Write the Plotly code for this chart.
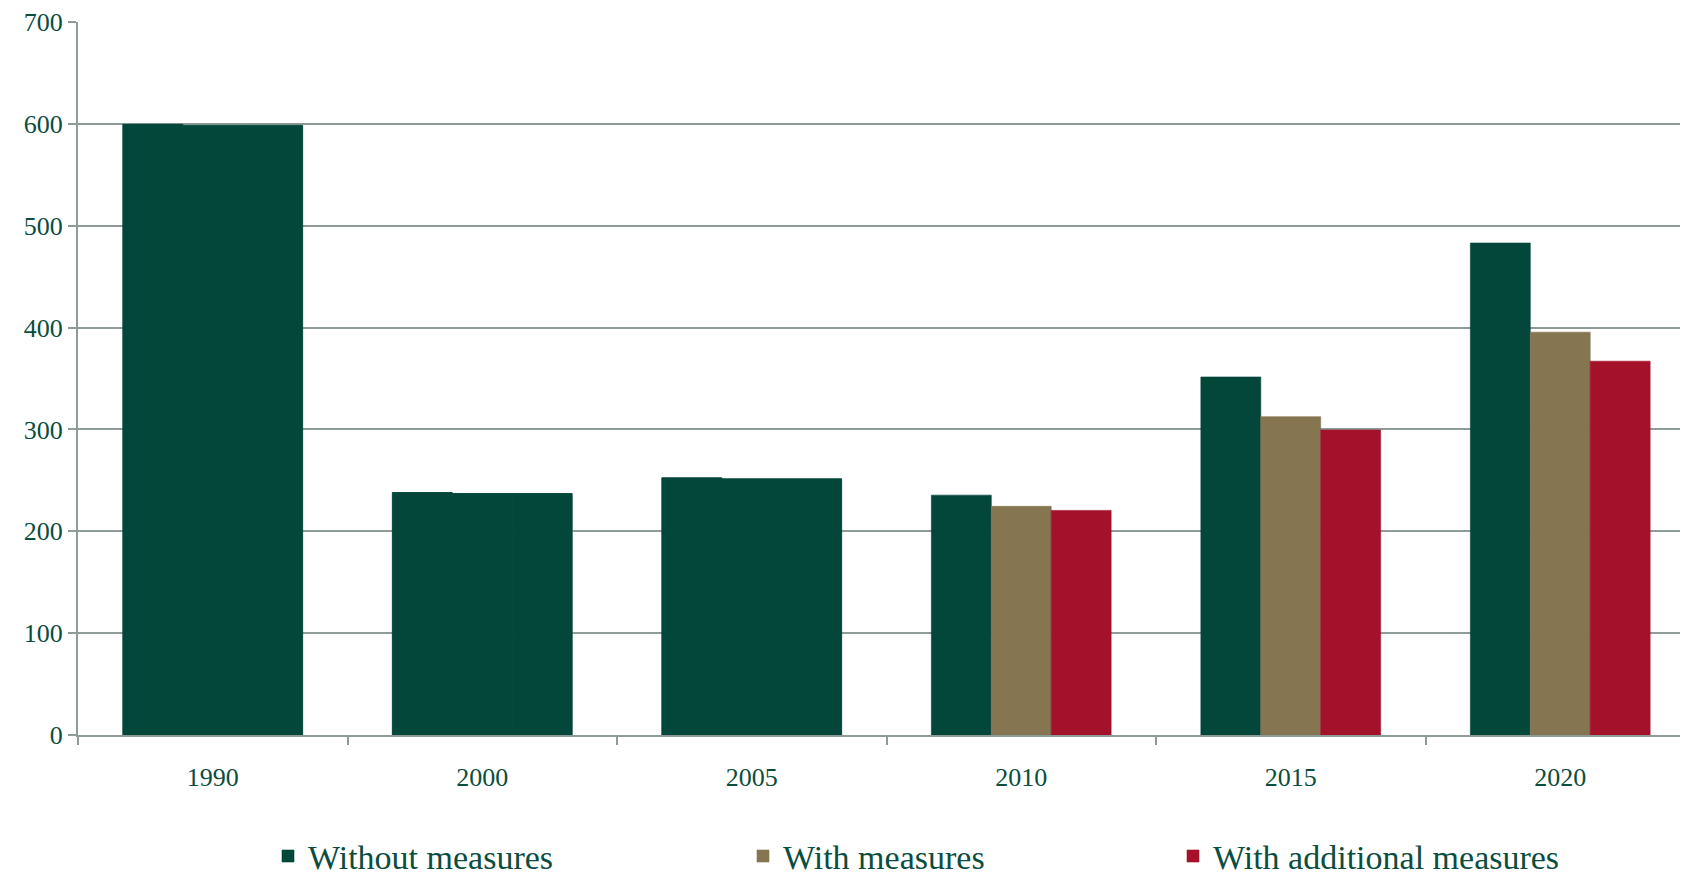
import plotly.graph_objects as go

categories = ["1990", "2000", "2005", "2010", "2015", "2020"]
without_measures = [599.5, 238, 252.5, 235.5, 351.5, 483]
with_measures = [598.5, 237, 251.5, 224.5, 312.5, 395.5]
with_additional = [598.5, 237, 251.5, 220.5, 299.5, 367]
series_names = ["Without measures", "With measures", "With additional measures"]
series_colors = ["#03473A", "#857551", "#A3122A"]
historic_count = 3  # first three years shown in green for every series

FONT = "Liberation Serif"
TEXT = "#0B4D3E"
GRID = "#8F9B96"

fig = go.Figure()
all_series = [without_measures, with_measures, with_additional]
legend_ids = ["legend", "legend2", "legend3"]
for i, (name, vals, col) in enumerate(zip(series_names, all_series, series_colors)):
    fig.add_trace(go.Bar(
        x=categories[:historic_count], y=vals[:historic_count],
        marker=dict(color=series_colors[0], line=dict(width=1, color=series_colors[0])),
        offsetgroup=str(i), showlegend=False, name=name,
    ))
    fig.add_trace(go.Bar(
        x=categories[historic_count:], y=vals[historic_count:],
        marker=dict(color=col, line=dict(width=0.6, color=col)),
        offsetgroup=str(i), showlegend=True, name=name, legend=legend_ids[i],
    ))

OFF = 8  # browser body margin
W, H = 1688 - OFF, 872 - OFF
L, R, T, B = 78 - OFF, 1688 - OFF, 22 - OFF, 735.5 - OFF
cat_w = 269.5
x_end = -0.5 + (R - L) / cat_w

def px_x(px):
    return (px - OFF - L) / (R - L)

leg_y = (B - (857 - OFF)) / (B - T)
leg_font = dict(family=FONT, size=34, color=TEXT)
common_leg = dict(orientation="h", yanchor="middle", y=leg_y, xanchor="left",
                  font=leg_font, bgcolor="rgba(0,0,0,0)", borderwidth=0)

fig.update_layout(
    width=W, height=H,
    margin=dict(l=L, r=W - R, t=T, b=H - B, autoexpand=False),
    paper_bgcolor="white", plot_bgcolor="white",
    barmode="group", bargap=0.333, bargroupgap=0,
    font=dict(family=FONT, size=26, color=TEXT),
    legend=dict(x=px_x(268), **common_leg),
    legend2=dict(x=px_x(743), **common_leg),
    legend3=dict(x=px_x(1173), **common_leg),
    xaxis=dict(
        type="category", range=[-0.5, x_end],
        showline=True, linecolor=GRID, linewidth=2,
        ticks="outside", tickson="boundaries", ticklen=8, tickcolor=GRID, tickwidth=2,
        tickfont=dict(family=FONT, size=26, color=TEXT),
        ticklabelstandoff=18, showgrid=False,
    ),
    yaxis=dict(
        range=[0, 700], dtick=100, tick0=0,
        showgrid=True, gridcolor=GRID, gridwidth=2,
        showline=True, linecolor=GRID, linewidth=2,
        ticks="outside", ticklen=8, tickcolor=GRID, tickwidth=2,
        tickfont=dict(family=FONT, size=26, color=TEXT),
        zeroline=False,
    ),
)

fig.write_html("out.html")
